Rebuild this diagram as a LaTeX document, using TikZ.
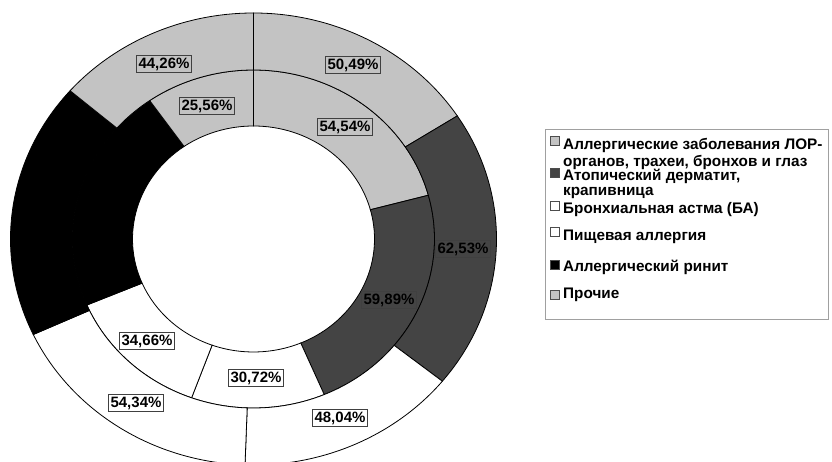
\documentclass[tikz,border=0pt]{standalone}
\usepackage{fontspec}
\setmainfont{Liberation Sans}
\usetikzlibrary{calc}
\definecolor{clight}{RGB}{195,195,195}
\definecolor{cdark}{RGB}{68,68,68}
\definecolor{cframe}{RGB}{160,160,160}
% one piece of a ring: fill, start, end, inner x/y radius, outer x/y radius
\newcommand{\ringsec}[7]{%
  \filldraw[sect,fill=#1] ($(c)+(#2:#4pt and #5pt)$) -- ($(c)+(#2:#6pt and #7pt)$)
    arc[start angle=#2,end angle=#3,x radius=#6pt,y radius=#7pt]
    -- ($(c)+(#3:#4pt and #5pt)$)
    arc[start angle=#3,end angle=#2,x radius=#4pt,y radius=#5pt] -- cycle;}

\begin{document}
\begin{tikzpicture}[x=1pt,y=1pt,
sect/.style={draw=black,line width=0.8pt},
lbl/.style={draw=black!75,line width=0.6pt,inner sep=2pt,font=\bfseries\fontsize{15}{15}\selectfont},
keymark/.style={draw=black!70,line width=0.5pt,minimum size=9pt,inner sep=0pt},
ltext/.style={anchor=west,align=left,inner sep=0pt,font=\bfseries\fontsize{15.3}{17}\selectfont}]
\clip (0,0) rectangle (832,461);
\coordinate (c) at (253.5,222);
% inner ring
\ringsec{clight}{15}{90}{121}{113}{181}{169}
\ringsec{cdark}{-67}{15}{121}{113}{181}{169}
\ringsec{white}{-110}{-67}{121}{113}{181}{169}
\ringsec{white}{-157}{-110}{121}{113}{181}{169}
\ringsec{black}{125}{203}{121}{113}{181}{169}
\ringsec{clight}{90}{125}{121}{113}{181}{169}
% outer ring
\ringsec{clight}{33}{90}{181}{169}{243}{226}
\ringsec{cdark}{-39}{33}{181}{169}{243}{226}
\ringsec{white}{-92}{-39}{181}{169}{243}{226}
\ringsec{white}{-155}{-92}{181}{169}{243}{226}
\ringsec{black}{139}{205}{181}{169}{243}{226}
\ringsec{clight}{90}{139}{181}{169}{243}{226}
% labels
\node[lbl] (o1) at (164,397) {44,26\%};
\node[lbl] (o2) at (353,396) {50,49\%};
\node[lbl] (i1) at (207,355) {25,56\%};
\node[lbl] (i2) at (345,334) {54,54\%};
\node[lbl] (o3) at (463,212) {62,53\%};
\node[lbl] (i3) at (389,161) {59,89\%};
\node[lbl] (i4) at (147,120) {34,66\%};
\node[lbl] (i5) at (256,83) {30,72\%};
\node[lbl] (o4) at (136,58) {54,34\%};
\node[lbl] (o5) at (340,43) {48,04\%};
% legend
\node[draw=cframe,line width=0.6pt,minimum width=283,minimum height=190,inner sep=0pt] (legend) at (686.5,237) {};
\node[keymark,fill=clight] (m1) at (555,320) {};
\node[keymark,fill=cdark] (m2) at (555,288) {};
\node[keymark,fill=white] (m3) at (555,255) {};
\node[keymark,fill=white] (m4) at (555,229) {};
\node[keymark,fill=black] (m5) at (555,196) {};
\node[keymark,fill=clight] (m6) at (555,166) {};
\node[ltext] (t1) at (563,307) {Аллергические заболевания ЛОР-\\органов, трахеи, бронхов и глаз};
\node[ltext,font=\bfseries\fontsize{15.3}{15}\selectfont] (t2) at (563,277) {Атопический дерматит,\\крапивница};
\node[ltext] (t3) at (563,251) {Бронхиальная астма (БА)};
\node[ltext] (t4) at (563,224) {Пищевая аллергия};
\node[ltext] (t5) at (563,194) {Аллергический ринит};
\node[ltext] (t6) at (563,166) {Прочие};
\end{tikzpicture}
\end{document}
